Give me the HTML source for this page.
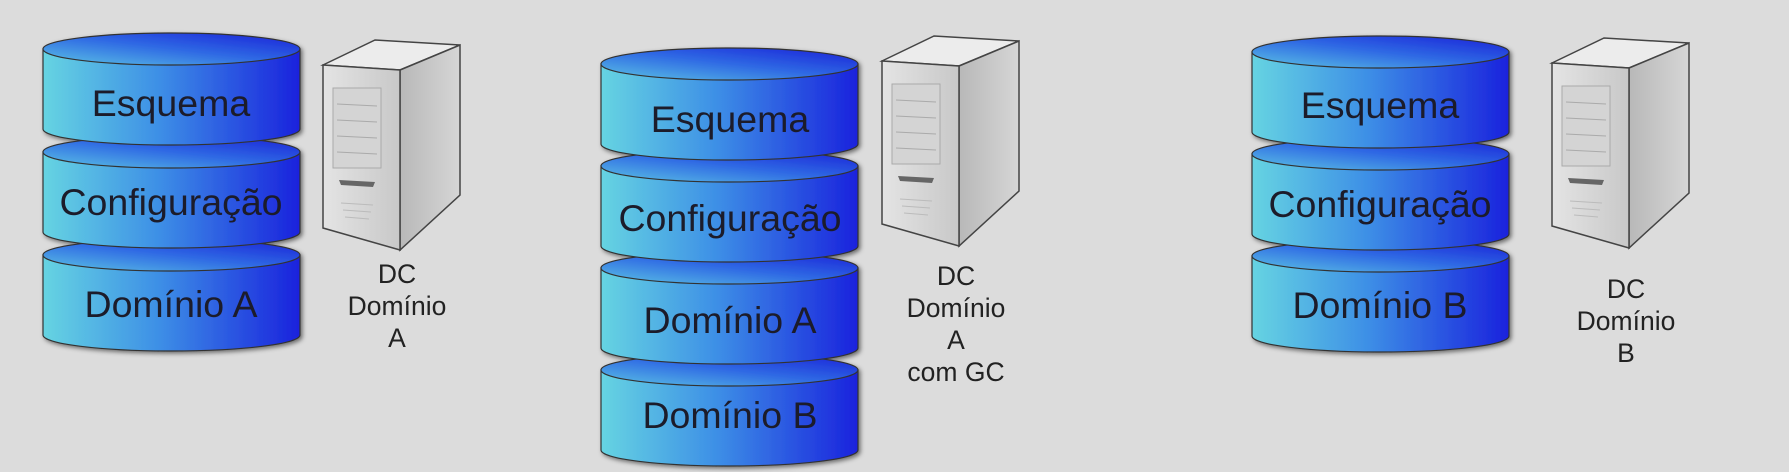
<!DOCTYPE html>
<html><head><meta charset="utf-8"><style>
html,body{margin:0;padding:0;background:#dcdcdc;}
svg{display:block;}
text{font-family:"Liberation Sans",sans-serif;}
</style></head><body>
<svg width="1789" height="472" viewBox="0 0 1789 472" xmlns="http://www.w3.org/2000/svg">
<defs>
<linearGradient id="body" x1="0" y1="0" x2="1" y2="0">
<stop offset="0" stop-color="#66d4e2"/><stop offset="0.45" stop-color="#3d8fe6"/><stop offset="1" stop-color="#1a22dd"/>
</linearGradient>
<linearGradient id="top" x1="0" y1="1" x2="1" y2="0">
<stop offset="0" stop-color="#5cc4e4"/><stop offset="0.5" stop-color="#2f6ae4"/><stop offset="1" stop-color="#1a1fd8"/>
</linearGradient>
<linearGradient id="srvF" x1="0" y1="0" x2="1" y2="0">
<stop offset="0" stop-color="#e4e4e4"/><stop offset="1" stop-color="#c8c8c8"/>
</linearGradient>
<linearGradient id="srvS" x1="0" y1="0" x2="1" y2="0">
<stop offset="0" stop-color="#b8b8b8"/><stop offset="1" stop-color="#d6d6d6"/>
</linearGradient>
<filter id="sh" x="-10%" y="-10%" width="130%" height="140%"><feDropShadow dx="2" dy="2" stdDeviation="2" flood-color="#000" flood-opacity="0.5"/></filter>
<g id="cyl">
<path d="M0,16 L0,96 A128.5,16 0 0 0 257,96 L257,16 Z" fill="url(#body)" stroke="#333" stroke-width="1.2"/>
<ellipse cx="128.5" cy="16" rx="128.5" ry="16" fill="url(#top)" stroke="#333" stroke-width="1.2"/>
</g>
<g id="srv">
<polygon points="0,27 52,2 137,7 77,32" fill="#ececec" stroke="#444" stroke-width="1.5"/>
<polygon points="77,32 137,7 137,157 77,212" fill="url(#srvS)" stroke="#444" stroke-width="1.5"/>
<polygon points="0,27 77,32 77,212 0,190" fill="url(#srvF)" stroke="#444" stroke-width="1.5"/>
<rect x="10" y="50" width="48" height="80" fill="#d4d4d4" stroke="#aaa"/>
<line x1="14" y1="66" x2="54" y2="68" stroke="#aaa"/><line x1="14" y1="82" x2="54" y2="84" stroke="#aaa"/>
<line x1="14" y1="98" x2="54" y2="100" stroke="#aaa"/><line x1="14" y1="114" x2="54" y2="116" stroke="#aaa"/>
<path d="M16,142 L52,144 L50,149 L18,147Z" fill="#666"/>
<line x1="18" y1="165" x2="50" y2="167" stroke="#bbb"/><line x1="20" y1="172" x2="48" y2="174" stroke="#bbb"/><line x1="22" y1="179" x2="46" y2="181" stroke="#bbb"/>
</g>
</defs>

<g font-size="37.5" fill="#1a1a2a" text-anchor="middle" filter="url(#sh)">
<use href="#cyl" x="43" y="239"/><use href="#cyl" x="43" y="136"/><use href="#cyl" x="43" y="33"/>
<text x="171" y="116">Esquema</text>
<text x="171" y="215">Configuração</text>
<text x="171" y="317">Domínio A</text>
<use href="#cyl" x="601" y="354"/><use href="#cyl" x="601" y="252"/><use href="#cyl" x="601" y="150"/><use href="#cyl" x="601" y="48"/>
<text x="730" y="132">Esquema</text>
<text x="730" y="231">Configuração</text>
<text x="730" y="333">Domínio A</text>
<text x="730" y="428">Domínio B</text>
<use href="#cyl" x="1252" y="240"/><use href="#cyl" x="1252" y="138"/><use href="#cyl" x="1252" y="36"/>
<text x="1380" y="118">Esquema</text>
<text x="1380" y="217">Configuração</text>
<text x="1380" y="318">Domínio B</text>
</g>

<use href="#srv" x="323" y="38"/>
<use href="#srv" x="882" y="34"/>
<use href="#srv" x="1552" y="36"/>

<g font-size="26.5" fill="#222" text-anchor="middle">
<text x="397" y="283">DC</text><text x="397" y="315">Domínio</text><text x="397" y="347">A</text>
<text x="956" y="285">DC</text><text x="956" y="317">Domínio</text><text x="956" y="349">A</text><text x="956" y="381">com GC</text>
<text x="1626" y="298">DC</text><text x="1626" y="330">Domínio</text><text x="1626" y="362">B</text>
</g>
</svg>
</body></html>
